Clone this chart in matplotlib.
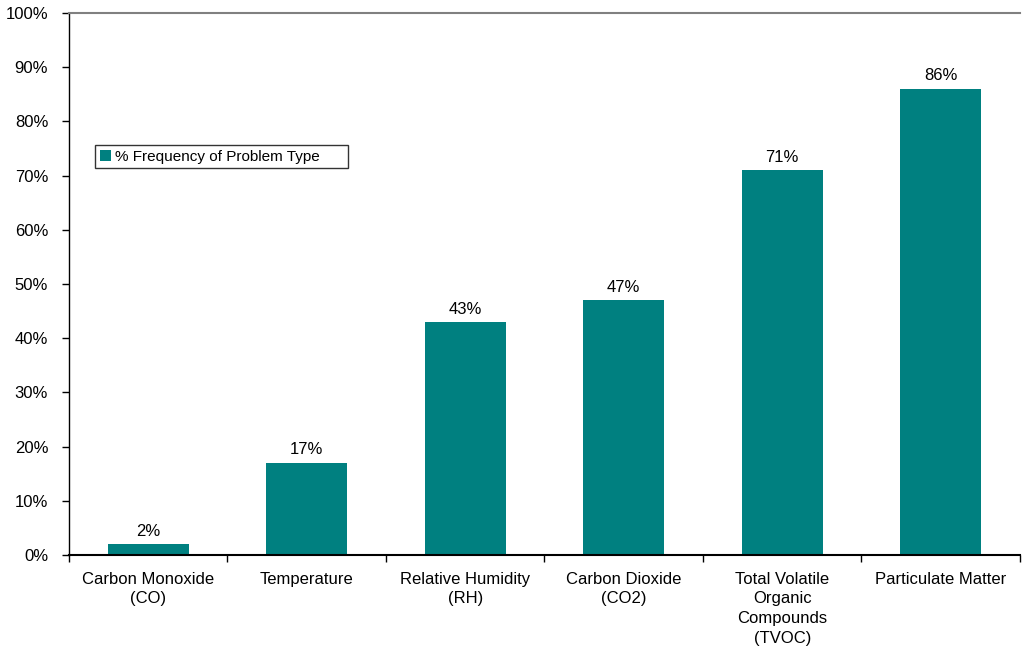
import numpy as np
import matplotlib.pyplot as plt
from matplotlib.ticker import PercentFormatter

plt.rcParams['font.family'] = ['Liberation Sans', 'DejaVu Sans']
plt.rcParams['font.size'] = 12

categories = ["Carbon Monoxide\n(CO)", "Temperature", "Relative Humidity\n(RH)",
              "Carbon Dioxide\n(CO2)", "Total Volatile\nOrganic\nCompounds\n(TVOC)",
              "Particulate Matter"]
frequency = [2, 17, 43, 47, 71, 86]
y_ticks = np.arange(0, 101, 10)

teal = '#008080'

fig = plt.figure(figsize=(10.22, 6.48), dpi=100)
ax = fig.add_axes([0.0675, 0.1435, 0.9305, 0.8365])

xx = np.arange(len(categories))
bars = ax.bar(xx, frequency, width=0.51, color=teal, label='% Frequency of Problem Type')
for b, v in zip(bars, frequency):
    ax.text(b.get_x() + b.get_width() / 2, v + 1.0, f"{v}%", ha='center', va='bottom', fontsize=12)

ax.set_xlim(-0.5, len(categories) - 0.5)
ax.set_ylim(0, 100)
ax.set_yticks(y_ticks)
ax.yaxis.set_major_formatter(PercentFormatter(decimals=0))

# boundaries get the tick marks, centres get the labels
ax.set_xticks(np.arange(len(categories) + 1) - 0.5)
ax.set_xticklabels([])
ax.set_xticks(xx, minor=True)
ax.set_xticklabels(categories, minor=True, linespacing=1.4)
ax.tick_params(axis='x', which='major', direction='out', length=5, width=1)
ax.tick_params(axis='x', which='minor', length=0, pad=12)
ax.tick_params(axis='y', direction='out', length=5, width=1, pad=10, labelsize=12)

ax.spines['right'].set_visible(False)
ax.spines['top'].set_color('#808080')
ax.spines['top'].set_linewidth(1.5)
ax.spines['left'].set_linewidth(1)
ax.spines['bottom'].set_linewidth(1.5)

# legend box spans a fixed width, text left-aligned inside
leg = ax.legend(loc='upper left', bbox_to_anchor=(95 / 1022, 1 - 167 / 648, 253 / 1022, 22 / 648),
                bbox_transform=fig.transFigure, mode='expand',
                frameon=True, fancybox=False, handlelength=0.75, handleheight=0.75, handletextpad=0.25,
                borderpad=0.3, borderaxespad=0, fontsize=11)
leg.get_frame().set_edgecolor('black')
leg.get_frame().set_linewidth(1)

fig.savefig('out.png', dpi=100)
